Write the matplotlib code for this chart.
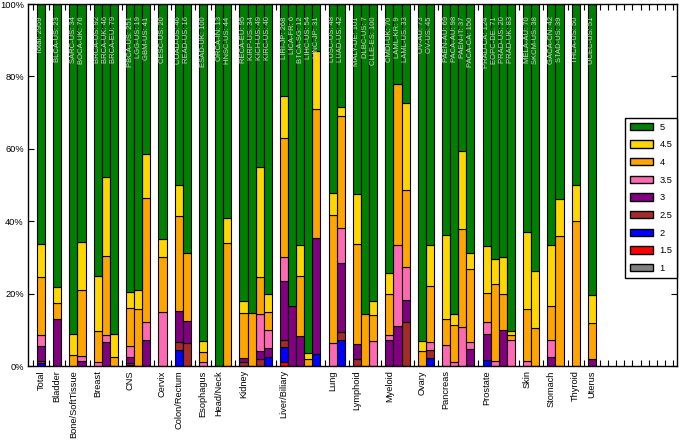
import numpy as np
import matplotlib
matplotlib.use('Agg')
import matplotlib.pyplot as plt
from matplotlib.patches import Patch

plt.rcParams['font.family'] = ['Liberation Sans', 'DejaVu Sans']

# tissue groups (label sits under the first cohort of each group)
tissues = ['Total', 'Bladder', 'Bone/SoftTissue', 'Breast', 'CNS', 'Cervix', 'Colon/Rectum',
           'Esophagus', 'Head/Neck', 'Kidney', 'Liver/Biliary', 'Lung', 'Lymphoid', 'Myeloid',
           'Ovary', 'Pancreas', 'Prostate', 'Skin', 'Stomach', 'Thyroid', 'Uterus']
group_sizes = [1, 1, 2, 3, 3, 1, 2, 1, 2, 4, 5, 2, 3, 3, 2, 4, 4, 2, 2, 1, 1]

cohorts = ['Total', 'BLCA-US', 'SARC-US', 'BOCA-UK', 'BRCA-US', 'BRCA-UK', 'BRCA-EU',
           'PBCA-US', 'LGG-US', 'GBM-US', 'CESC-US', 'COAD-US', 'READ-US', 'ESAD-UK',
           'ORCA-IN', 'HNSC-US', 'RECA-EU', 'KIRP-US', 'KICH-US', 'KIRC-US', 'LIRI-JP',
           'LICA-FR', 'BTCA-SG', 'LIHC-US', 'LINC-JP', 'LUSC-US', 'LUAD-US', 'MALY-DE',
           'DLBC-US', 'CLLE-ES', 'CMDI-UK', 'LAML-KR', 'LAML-US', 'OV-AU', 'OV-US',
           'PAEN-AU', 'PACA-AU', 'PAEN-IT', 'PACA-CA', 'PRAD-CA', 'EOPC-DE', 'PRAD-US',
           'PRAD-UK', 'MELA-AU', 'SKCM-US', 'GACA-CN', 'STAD-US', 'THCA-US', 'UCEC-US']

# number of samples per grade for each cohort
g1 = [0] * 49
g15 = [3, 0, 0, 0, 0, 0, 0, 0, 0, 0, 0, 0, 0, 0, 0, 0, 0, 0, 0, 0,
       3, 0, 0, 0, 0, 0, 0, 0, 0, 0, 0, 0, 0, 0, 0, 0, 0, 0, 0, 0,
       0, 0, 0, 0, 0, 0, 0, 0, 0]
g2 = [22, 0, 0, 0, 0, 0, 0, 1, 0, 0, 0, 2, 0, 0, 0, 0, 0, 0, 0, 1,
      11, 0, 0, 0, 1, 0, 3, 0, 0, 0, 0, 0, 0, 0, 1, 0, 0, 0, 0, 2,
      0, 0, 0, 0, 0, 0, 0, 0, 0]
g25 = [18, 0, 0, 0, 0, 0, 0, 1, 0, 0, 0, 1, 1, 0, 0, 0, 1, 0, 1, 0,
       5, 0, 0, 0, 0, 0, 1, 2, 0, 0, 0, 0, 4, 0, 1, 0, 0, 0, 0, 0,
       0, 0, 0, 0, 0, 0, 0, 0, 0]
g3 = [118, 3, 0, 1, 0, 3, 0, 4, 0, 3, 0, 4, 1, 0, 0, 0, 1, 0, 1, 1,
      44, 1, 1, 0, 10, 0, 8, 4, 0, 0, 5, 1, 2, 0, 0, 0, 0, 0, 7, 9,
      0, 2, 0, 0, 0, 1, 0, 0, 1]
g35 = [89, 0, 0, 1, 1, 1, 0, 8, 0, 2, 3, 0, 0, 1, 0, 0, 0, 0, 5, 2,
       18, 0, 0, 0, 0, 3, 4, 0, 0, 7, 1, 2, 3, 0, 1, 4, 1, 4, 3, 4,
       1, 0, 6, 1, 0, 2, 0, 0, 0]
g4 = [476, 1, 1, 14, 8, 10, 2, 26, 3, 14, 3, 12, 3, 3, 0, 15, 12, 5, 5, 2,
      88, 0, 2, 1, 11, 17, 13, 28, 1, 7, 8, 4, 7, 3, 7, 5, 10, 10, 30, 10,
      15, 2, 1, 10, 4, 4, 14, 20, 5]
g45 = [268, 1, 2, 10, 14, 10, 5, 11, 1, 5, 1, 4, 0, 3, 0, 3, 3, 0, 15, 2,
       31, 0, 1, 1, 5, 3, 1, 14, 0, 4, 4, 0, 8, 2, 5, 16, 3, 8, 7, 16,
       5, 2, 1, 15, 6, 7, 4, 5, 4]
g5 = [1965, 18, 31, 50, 69, 22, 72, 200, 15, 17, 13, 23, 11, 93, 13, 26, 78, 29, 22, 32,
      68, 5, 8, 52, 4, 25, 12, 53, 6, 82, 52, 2, 9, 68, 30, 44, 84, 15, 103, 83,
      50, 14, 75, 44, 28, 28, 21, 25, 41]

grades = ['1', '1.5', '2', '2.5', '3', '3.5', '4', '4.5', '5']
colors = ['#808080', '#FF0000', '#0000FF', '#A52A2A', '#800080', '#FF69B4',
          '#FFA500', '#FFD700', '#008000']

counts = np.array([g1, g15, g2, g25, g3, g35, g4, g45, g5], dtype=float)
n = counts.sum(axis=0).astype(int)
pct = counts / n * 100

# bar positions: one empty slot between tissue groups
x = []
first = []
pos = 0
for size in group_sizes:
    first.append(pos)
    x.extend(range(pos, pos + size))
    pos += size + 1
x = np.array(x)

fig = plt.figure(figsize=(6.85, 4.43), dpi=100)
ax = fig.add_axes([28 / 685, 1 - 366 / 443, (677 - 28) / 685, (366 - 4) / 443])

bottom = np.zeros(len(x))
for row, col in zip(pct, colors):
    m = row > 0
    ax.bar(x[m], row[m], bottom=bottom[m], width=1.0, color=col,
           edgecolor='black', linewidth=0.8)
    bottom += row

for xi, name, ni in zip(x, cohorts, n):
    ax.text(xi, 96.6, f'{name}: {ni}', rotation=90, ha='center', va='top',
            fontsize=5.5, color='#d8d8d8')

ax.set_xlim(-1.6, 78.5)
ax.set_ylim(0, 100)
ax.set_yticks(range(0, 101, 20))
ax.set_yticklabels([f'{v}%' for v in range(0, 101, 20)])
ax.set_xticks(first)
ax.set_xticklabels(tissues, rotation=90)
ax.set_xticks(np.arange(-1, 79), minor=True)
ax.tick_params(which='both', direction='in', top=True, right=True,
               length=4, width=0.8, labelsize=6.7, pad=3)
ax.set_axisbelow(True)
for s in ax.spines.values():
    s.set_linewidth(1.0)

handles = [Patch(facecolor=c, edgecolor='black', linewidth=1.0, label=g)
           for g, c in zip(grades[::-1], colors[::-1])]
leg = ax.legend(handles=handles, loc='upper right', bbox_to_anchor=(1.0, 0.685),
                borderaxespad=0, fontsize=6.7, fancybox=False, framealpha=1,
                edgecolor='black', handlelength=2.5, handleheight=0.83,
                handletextpad=0.65, labelspacing=0.93, borderpad=0.5)
leg.get_frame().set_linewidth(1.0)

fig.savefig('out.png', dpi=100)
